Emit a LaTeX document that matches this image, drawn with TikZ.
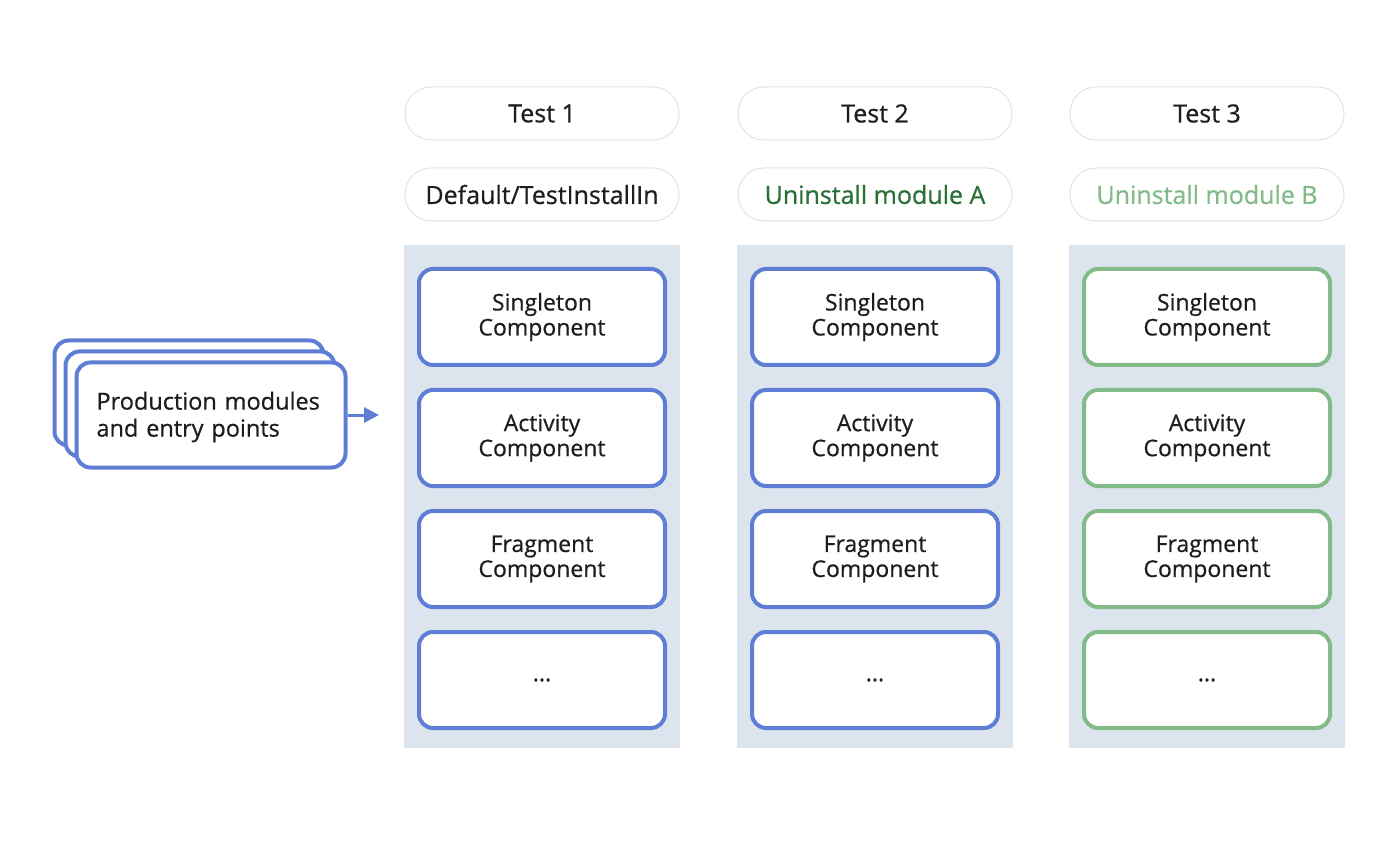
\documentclass[tikz,border=0pt]{standalone}
\usepackage{fontspec}
\setmainfont{Open Sans}[UprightFeatures={FakeBold=0.6}]
\usetikzlibrary{positioning, arrows.meta}
\definecolor{compblue}{RGB}{94,126,214}
\definecolor{compgreen}{RGB}{130,187,136}
\definecolor{labelgreen}{RGB}{40,112,52}
\definecolor{colbg}{RGB}{220,229,238}
\definecolor{pillgray}{RGB}{222,228,234}
\definecolor{inktext}{RGB}{28,29,32}

\begin{document}
\begin{tikzpicture}[x=1pt, y=-1pt, node distance=21pt, text=inktext,
    comp/.style={draw=#1, line width=4pt, rounded corners=14pt, fill=white,
      minimum width=246pt, minimum height=96pt, align=center,
      font=\fontsize{23}{25}\selectfont},
    pill/.style={draw=pillgray, line width=1pt, rounded corners=26pt, fill=white,
      minimum width=274pt, minimum height=53pt, font=\fontsize{25}{30}\selectfont},
    colbox/.style={fill=colbg, minimum width=276pt, minimum height=503pt, inner sep=0pt},
    stackbox/.style={draw=compblue, line width=4pt, rounded corners=14pt, fill=white,
      minimum width=269pt, minimum height=105pt}]
  \useasboundingbox (0,0) rectangle (1400,866);

  % production modules, stacked
  \node[stackbox] (prodback) at (189,393) {};
  \node[stackbox] (prodmid) at (200,404) {};
  \node[stackbox, text width=229pt, align=left, font=\fontsize{23.5}{27}\selectfont] (prod)
    at (211,415) {};
  \node[text width=229pt, align=left, font=\fontsize{23.5}{27}\selectfont] (prodtext)
    at (211,417) {Production modules\\and entry points};
  \coordinate (prodtip) at (379,415);
  \draw[compblue, line width=3pt, -{Triangle[length=15pt, width=15pt]}] (prod.east) -- (prodtip);

  % test columns
  \foreach \i/\cx/\hd/\sub/\subcol/\edge in
      {1/542/Test 1/{Default/TestInstallIn}/inktext/compblue,
       2/875/Test 2/Uninstall module A/labelgreen/compblue,
       3/1207/Test 3/Uninstall module B/compgreen/compgreen}{
    \node[colbox] (bg\i) at (\cx,496.5) {};
    \node[pill] (test\i) at (\cx,113.5) {\hd};
    \node[pill, text=\subcol] (mode\i) at (\cx,194.5) {\sub};
    \node[comp=\edge] (single\i) at (\cx,317) {Singleton\\Component};
    \node[comp=\edge, below=of single\i] (activity\i) {Activity\\Component};
    \node[comp=\edge, below=of activity\i] (fragment\i) {Fragment\\Component};
    \node[comp=\edge, below=of fragment\i] (more\i) {...};
  }
\end{tikzpicture}
\end{document}
